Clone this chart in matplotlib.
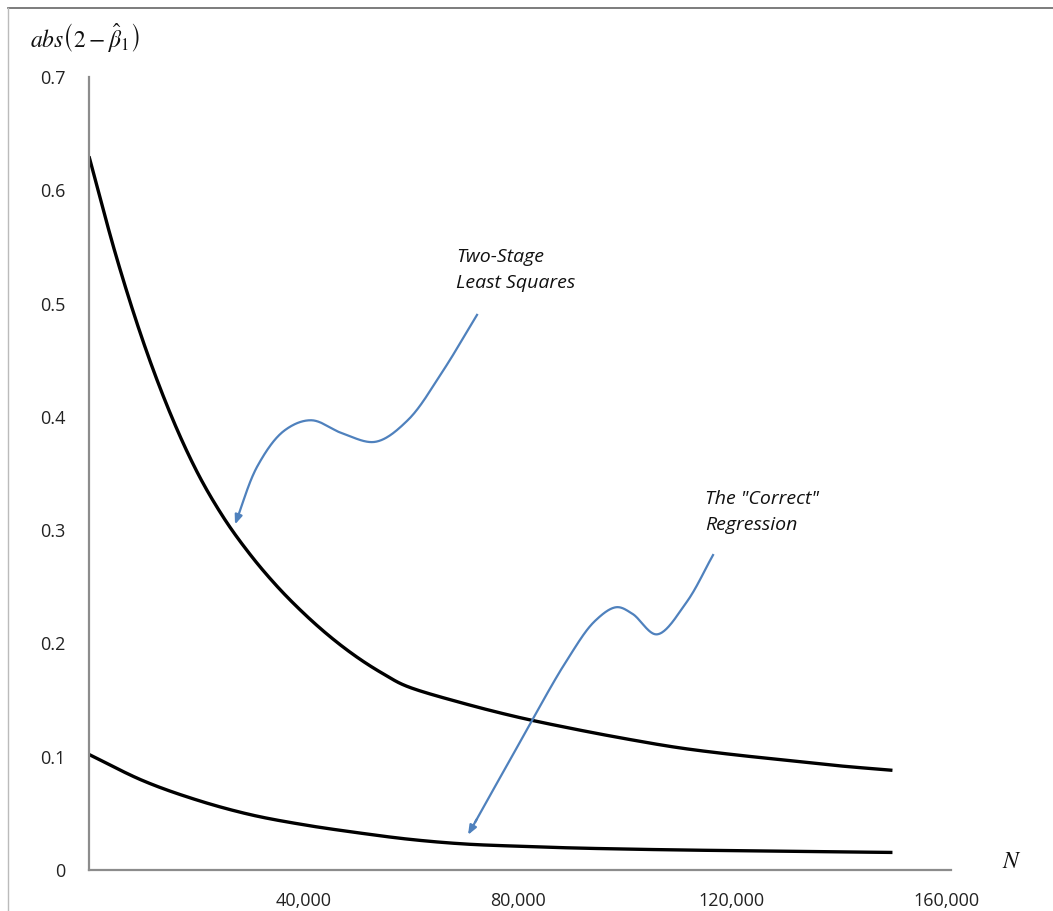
import numpy as np
import matplotlib
matplotlib.use("Agg")
import matplotlib.pyplot as plt
from matplotlib.lines import Line2D

# ---------------- data ----------------
n_upper = [0, 5000, 10000, 15000, 20000, 25000, 30000, 35000, 40000, 45000, 50000,
           55000, 60000, 70000, 80000, 90000, 100000, 110000, 120000, 130000, 140000, 150000]
tsls_err = [0.630, 0.543, 0.468, 0.405, 0.353, 0.312, 0.279, 0.251, 0.227, 0.206, 0.188,
            0.173, 0.161, 0.147, 0.135, 0.125, 0.116, 0.108, 0.102, 0.097, 0.092, 0.088]

n_lower = [0, 10000, 20000, 30000, 40000, 50000, 60000, 70000, 80000, 90000, 100000,
           110000, 120000, 130000, 140000, 150000]
correct_err = [0.102, 0.079, 0.062, 0.049, 0.040, 0.033, 0.027, 0.023, 0.021, 0.0195, 0.0185,
               0.0177, 0.0171, 0.0165, 0.016, 0.0155]

x_ticks = [40000, 80000, 120000, 160000]
x_tick_labels = ["40,000", "80,000", "120,000", "160,000"]
y_ticks = [0, 0.1, 0.2, 0.3, 0.4, 0.5, 0.6, 0.7]
y_tick_labels = ["0", "0.1", "0.2", "0.3", "0.4", "0.5", "0.6", "0.7"]

label_tsls = "Two-Stage\nLeast Squares"
label_correct = "The \"Correct\"\nRegression"

# annotation callout paths (N, value), ending at arrow tip
callout_tsls = [(72440, 0.490), (66000, 0.440), (59500, 0.397), (53500, 0.378),
                (47500, 0.385), (41500, 0.397), (36500, 0.388), (31500, 0.357),
                (27260, 0.305)]
callout_correct = [(116500, 0.278), (111500, 0.236), (106000, 0.208), (101500, 0.226),
                   (98500, 0.232), (94500, 0.220), (89200, 0.185), (80000, 0.109),
                   (70760, 0.031)]


def catmull_rom(xs, ys, n=30):
    p = np.column_stack([xs, ys]).astype(float)
    p = np.vstack([2 * p[0] - p[1], p, 2 * p[-1] - p[-2]])
    out = []
    t = np.linspace(0, 1, n, endpoint=False)[:, None]
    for i in range(1, len(p) - 2):
        p0, p1, p2, p3 = p[i - 1], p[i], p[i + 1], p[i + 2]
        seg = 0.5 * ((2 * p1) + (-p0 + p2) * t + (2 * p0 - 5 * p1 + 4 * p2 - p3) * t ** 2
                     + (-p0 + 3 * p1 - 3 * p2 + p3) * t ** 3)
        out.append(seg)
    out.append(p[-2][None, :])
    out = np.vstack(out)
    return out[:, 0], out[:, 1]


def centripetal_cr(pts, n=40, alpha=0.5):
    p = np.asarray(pts, float)
    p = np.vstack([2 * p[0] - p[1], p, 2 * p[-1] - p[-2]])
    out = []
    for i in range(1, len(p) - 2):
        P0, P1, P2, P3 = p[i - 1], p[i], p[i + 1], p[i + 2]
        t0 = 0.0
        t1 = t0 + np.linalg.norm(P1 - P0) ** alpha
        t2 = t1 + np.linalg.norm(P2 - P1) ** alpha
        t3 = t2 + np.linalg.norm(P3 - P2) ** alpha
        t = np.linspace(t1, t2, n, endpoint=False)[:, None]
        A1 = (t1 - t) / (t1 - t0) * P0 + (t - t0) / (t1 - t0) * P1
        A2 = (t2 - t) / (t2 - t1) * P1 + (t - t1) / (t2 - t1) * P2
        A3 = (t3 - t) / (t3 - t2) * P2 + (t - t2) / (t3 - t2) * P3
        B1 = (t2 - t) / (t2 - t0) * A1 + (t - t0) / (t2 - t0) * A2
        B2 = (t3 - t) / (t3 - t1) * A2 + (t - t1) / (t3 - t1) * A3
        C = (t2 - t) / (t2 - t1) * B1 + (t - t1) / (t2 - t1) * B2
        out.append(C)
    out.append(p[-2][None, :])
    return np.vstack(out)


plt.rcParams['font.family'] = ['Open Sans', 'DejaVu Sans']
plt.rcParams['mathtext.fontset'] = 'stix'

fig = plt.figure(figsize=(10.53, 9.11), dpi=100)
ax = fig.add_axes([89 / 1053, 1 - 870 / 911, 862 / 1053, 793 / 911])

line_col = "black"
blue = "#4F81BD"

ax.set_xlim(0, 160930)
ax.set_ylim(0, 0.7)

sx, sy = catmull_rom(n_upper, tsls_err)
ax.plot(sx, sy, color=line_col, lw=2.4, solid_capstyle='butt')
sx, sy = catmull_rom(n_lower, correct_err)
ax.plot(sx, sy, color=line_col, lw=2.4, solid_capstyle='butt')

for path in (callout_tsls, callout_correct):
    disp = ax.transData.transform(np.asarray(path, float))
    curve_disp = centripetal_cr(disp, n=40)
    curve = ax.transData.inverted().transform(curve_disp)
    cx, cy = curve[:, 0], curve[:, 1]
    ax.plot(cx[:-6], cy[:-6], color=blue, lw=1.6)
    ax.annotate("", xy=(cx[-1], cy[-1]), xytext=(cx[-8], cy[-8]),
                arrowprops=dict(arrowstyle='-|>,head_length=0.55,head_width=0.22',
                                color=blue, lw=1.6, shrinkA=0, shrinkB=0))

ax.set_xticks(x_ticks)
ax.set_xticklabels(x_tick_labels)
ax.set_yticks(y_ticks)
ax.set_yticklabels(y_tick_labels)
ax.tick_params(axis='both', length=0, labelsize=13, colors='#222222')
ax.tick_params(axis='x', pad=16)
ax.tick_params(axis='y', pad=17)
for s in ('top', 'right'):
    ax.spines[s].set_visible(False)
for s in ('left', 'bottom'):
    ax.spines[s].set_color('#8c8c8c')
    ax.spines[s].set_linewidth(1.6)

fig.text(456 / 1053, 1 - 248 / 911, label_tsls, ha='left', va='top', fontsize=14,
         style='italic', linespacing=1.6, color='#111111')
fig.text(705 / 1053, 1 - 490 / 911, label_correct, ha='left', va='top', fontsize=14,
         style='italic', linespacing=1.6, color='#111111')

fig.text(30 / 1053, 1 - 38 / 911, r'$abs\left(2-\hat{\beta}_1\right)$', ha='left', va='center',
         fontsize=17, color='#111111')
fig.text(1012 / 1053, 1 - 862 / 911, r'$N$', ha='center', va='center', fontsize=17,
         color='#111111')

# outer frame lines (top and left)
fig.add_artist(Line2D([8 / 1053, 1], [1 - 8 / 911, 1 - 8 / 911], transform=fig.transFigure,
                      color='#666666', lw=1.2))
fig.add_artist(Line2D([8 / 1053, 8 / 1053], [0, 1 - 8 / 911], transform=fig.transFigure,
                      color='#bbbbbb', lw=1.0))

fig.savefig("out.png", dpi=100)
